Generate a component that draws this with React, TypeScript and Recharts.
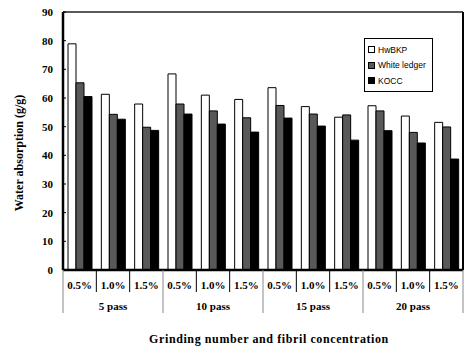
import React from 'react';
import { BarChart, Bar, XAxis, YAxis, Legend, Label } from 'recharts';

const concentrations = ['0.5%', '1.0%', '1.5%', '0.5%', '1.0%', '1.5%', '0.5%', '1.0%', '1.5%', '0.5%', '1.0%', '1.5%'];
const passes = ['5 pass', '5 pass', '5 pass', '10 pass', '10 pass', '10 pass', '15 pass', '15 pass', '15 pass', '20 pass', '20 pass', '20 pass'];
const hwbkp = [78.9, 61.3, 57.9, 68.4, 61.0, 59.5, 63.6, 57.0, 53.3, 57.3, 53.7, 51.5];
const whiteLedger = [65.3, 54.3, 49.8, 57.9, 55.5, 53.1, 57.4, 54.4, 54.1, 55.5, 48.0, 49.9];
const kocc = [60.5, 52.6, 48.7, 54.4, 50.9, 48.1, 53.0, 50.2, 45.3, 48.6, 44.3, 38.7];
const yTicks = [0, 10, 20, 30, 40, 50, 60, 70, 80, 90];
const seriesOrder = ['HwBKP', 'White ledger', 'KOCC'];

const data = concentrations.map((c, i) => ({
    conc: c,
    pass: passes[i],
    hw: hwbkp[i],
    wl: whiteLedger[i],
    kocc: kocc[i],
}));

const SERIF = '"Liberation Serif", "Times New Roman", serif';
const SANS = '"Liberation Sans", Arial, sans-serif';

// first level: concentration labels + short dividers
const ConcTick = (props: any) => {
    const { x, y, payload, index } = props;
    const off = payload.offset || 0;
    return (
        <g>
            <text x={x} y={y + 19} textAnchor="middle" fontFamily={SERIF} fontWeight="bold" fontSize={11} fill="#000">
                {payload.value}
            </text>
            {index % 3 !== 2 && (
                <line x1={x + off} x2={x + off} y1={y} y2={y + 22} stroke="#000" strokeWidth={1} />
            )}
        </g>
    );
};

// second level: pass labels + long group dividers
const PassTick = (props: any) => {
    const { x, y, payload, index } = props;
    const off = payload.offset || 0;
    return (
        <g>
            {index % 3 === 1 && (
                <text x={x} y={y + 18} textAnchor="middle" fontFamily={SERIF} fontWeight="bold" fontSize={11} fill="#000">
                    {payload.value}
                </text>
            )}
            {index % 3 === 0 && (
                <line x1={x - off} x2={x - off} y1={y - 22} y2={y + 21} stroke="#888" strokeWidth={1} />
            )}
            {index === data.length - 1 && (
                <line x1={x + off} x2={x + off} y1={y - 22} y2={y + 21} stroke="#888" strokeWidth={1} />
            )}
        </g>
    );
};

const LegendBox = (props: any) => {
    const items = [...(props.payload || [])].sort(
        (a: any, b: any) => seriesOrder.indexOf(a.value) - seriesOrder.indexOf(b.value)
    );
    return (
        <div style={{ border: '1px solid #000', background: '#fff', width: 64, padding: '3px 0 2px 3px', boxSizing: 'content-box' }}>
            {items.map((p: any) => (
                <div key={p.value} style={{ display: 'flex', alignItems: 'center', height: 15.5 }}>
                    <span style={{ display: 'inline-block', width: 5, height: 5, background: p.color, border: '1px solid #000', marginRight: 3 }} />
                    <span style={{ fontFamily: SANS, fontSize: 8.5, color: '#000' }}>{p.value}</span>
                </div>
            ))}
        </div>
    );
};

export default function App() {
    return (
        <div style={{ position: 'absolute', left: 0, top: 0, background: '#fff' }}>
            <BarChart
                width={469}
                height={354}
                data={data}
                margin={{ top: 11, right: 5, left: 0, bottom: 38 }}
                barCategoryGap="15%"
                barGap={0}
            >
                <XAxis xAxisId="top" orientation="top" dataKey="conc" height={1} tick={false} tickLine={false}
                    axisLine={{ stroke: '#222', strokeWidth: 1.5 }} />
                <XAxis dataKey="conc" height={22} interval={0} tickLine={false} tickSize={0} tickMargin={0}
                    axisLine={{ stroke: '#000', strokeWidth: 2.5 }} tick={<ConcTick />} />
                <XAxis xAxisId="group" dataKey="pass" height={24} interval={0} tickLine={false} tickSize={0} tickMargin={0}
                    axisLine={false} tick={<PassTick />}>
                    <Label
                        content={(p: any) => {
                            const vb = p.viewBox;
                            return (
                                <text x={vb.x + vb.width / 2 + 6} y={vb.y + vb.height + 27} textAnchor="middle"
                                    fontFamily={SERIF} fontWeight="bold" fontSize={12} fill="#000" letterSpacing={0.6}>
                                    Grinding number and fibril concentration
                                </text>
                            );
                        }}
                    />
                </XAxis>
                <YAxis domain={[0, 90]} ticks={yTicks} width={63} tickSize={-3} tickMargin={13}
                    axisLine={{ stroke: '#000', strokeWidth: 2.5 }} tickLine={{ stroke: '#000' }}
                    tick={{ fontFamily: SERIF, fontWeight: 'bold', fontSize: 11, fill: '#000' }}>
                    <Label
                        content={(p: any) => {
                            const vb = p.viewBox;
                            const cy = vb.y + vb.height / 2 + 12;
                            return (
                                <text x={23} y={cy} transform={`rotate(-90 23 ${cy})`} textAnchor="middle"
                                    fontFamily={SERIF} fontWeight="bold" fontSize={12} fill="#000">
                                    Water absorption (g/g)
                                </text>
                            );
                        }}
                    />
                </YAxis>
                <YAxis yAxisId="right" orientation="right" domain={[0, 90]} width={1} tick={false} tickLine={false}
                    axisLine={{ stroke: '#000', strokeWidth: 2 }} />
                <Legend
                    layout="vertical"
                    align="center"
                    verticalAlign="middle"
                    content={<LegendBox />}
                    wrapperStyle={{ position: 'absolute', left: 364, top: 38, width: 'auto' }}
                />
                <Bar dataKey="hw" name="HwBKP" fill="#ffffff" stroke="#000" strokeWidth={1} isAnimationActive={false} />
                <Bar dataKey="wl" name="White ledger" fill="#595959" stroke="#000" strokeWidth={1} isAnimationActive={false} />
                <Bar dataKey="kocc" name="KOCC" fill="#000000" stroke="#000" strokeWidth={1} isAnimationActive={false} />
            </BarChart>
        </div>
    );
}
